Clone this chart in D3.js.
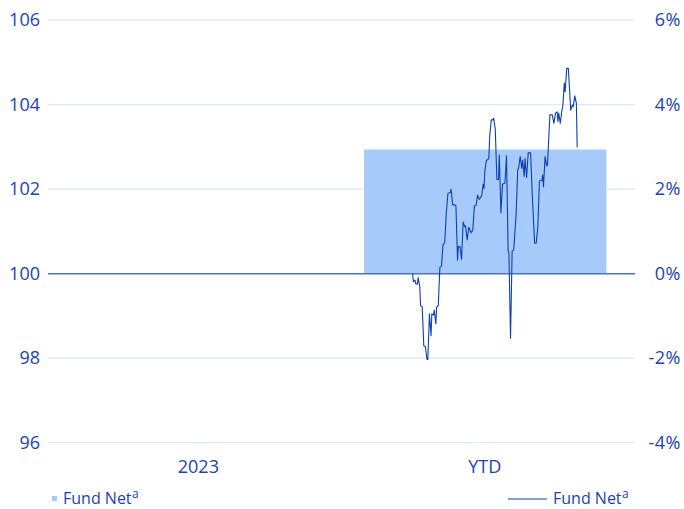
<!DOCTYPE html>
<html>
<head>
<meta charset="utf-8">
<script src="https://cdn.jsdelivr.net/npm/d3@7"></script>
<style>
  html, body { margin: 0; padding: 0; background: #fff; }
  svg { display: block; font-family: "Open Sans", "Noto Sans", sans-serif; }
</style>
</head>
<body>
<div id="chart"></div>
<script>
// Calendar-year returns (bars, right axis in %)
const categories = ["2023", "YTD"];
const barValues = [null, 2.94];

// Growth of 100 (line, left axis) - day offsets from the line start
const lineStart = "2024-03-30";
const lineDays = [0, 1, 3, 4, 6, 7, 9, 10, 12, 14, 16, 18, 19, 21, 23, 24, 26, 27, 29, 30,
  32, 34, 36, 38, 40, 42, 44, 47, 48, 50, 52, 54, 56, 57, 59, 61, 63, 65, 66, 68,
  70, 73, 75, 77, 79, 81, 83, 86, 88, 89, 90, 92, 93, 95, 96, 98, 100, 101, 103, 105,
  107, 108, 109, 110, 112, 115, 117, 119, 120, 122, 124, 126, 129, 131, 132, 134, 136, 137, 139, 140,
  142, 144, 147, 149, 152, 154, 156, 158, 161, 162, 163, 165, 167, 168, 171, 174, 176, 178, 180, 181,
  182, 184, 186, 187, 189, 190, 192, 194, 197, 199, 200, 202, 204, 205];
const lineValues = [100.0, 99.81, 99.85, 99.76, 99.76, 99.91, 99.69, 99.24, 99.22, 98.29, 98.27, 97.97, 97.97, 99.05, 98.53, 99.05, 99.02, 99.14, 98.81, 99.22,
  99.24, 100.15, 100.18, 100.70, 100.72, 101.43, 101.90, 101.92, 102.00, 101.63, 101.63, 101.61, 100.32, 100.64, 100.64, 100.34, 101.22, 101.11, 101.13, 100.80,
  101.10, 100.97, 101.03, 101.61, 101.61, 101.86, 101.76, 101.84, 102.12, 102.02, 102.43, 102.69, 102.69, 102.73, 103.24, 103.64, 103.64, 103.68, 103.42, 102.23,
  102.23, 102.81, 102.14, 101.44, 102.12, 102.14, 102.79, 100.52, 100.50, 98.47, 100.54, 100.56, 101.43, 102.47, 102.49, 102.77, 102.49, 102.69, 102.30, 102.73,
  102.28, 102.86, 102.86, 101.90, 100.72, 100.72, 101.11, 102.20, 102.20, 102.34, 102.06, 102.77, 102.55, 102.57, 103.76, 103.76, 103.56, 103.80, 103.83, 103.60,
  103.80, 103.56, 103.87, 103.95, 104.51, 104.31, 104.86, 104.86, 103.87, 103.99, 103.95, 104.21, 104.03, 102.99];

const leftTicks = [96, 98, 100, 102, 104, 106];
const rightTicks = [-4, -2, 0, 2, 4, 6];
const timeDomain = ["2023-01-01", "2025-01-01"];
const legendLabel = "Fund Net";
const legendNote = "a";

const W = 684, H = 509;
const innerLeft = 48, innerRight = 635;
const yTop = 20.2, yBottom = 442.7;

const textColor = "#1a42b8";
const barColor = "#a6cbfb";
const lineColor = "#0d3fb3";
const gridColor = "#dde9fb";
const zeroColor = "#4a72c8";
const font = "\"Open Sans\", sans-serif";

const svg = d3.select("#chart").append("svg")
  .attr("width", W)
  .attr("height", H);

const yLeft = d3.scaleLinear().domain([96, 106]).range([yBottom, yTop]);
const yRight = d3.scaleLinear().domain([-4, 6]).range([yBottom, yTop]);

const xBand = d3.scaleBand()
  .domain(categories)
  .range([innerLeft, innerRight])
  .paddingInner(0.15)
  .paddingOuter(0.1);

const parse = d3.utcParse("%Y-%m-%d");
const xTime = d3.scaleUtc()
  .domain(timeDomain.map(parse))
  .range([innerLeft, innerRight]);

// gridlines
svg.append("g")
  .selectAll("line")
  .data(leftTicks.filter(d => d !== 100))
  .join("line")
  .attr("x1", innerLeft).attr("x2", innerRight)
  .attr("y1", d => yLeft(d)).attr("y2", d => yLeft(d))
  .attr("stroke", gridColor)
  .attr("stroke-width", 1.2);

// bars
svg.append("g")
  .selectAll("rect")
  .data(categories.map((c, i) => ({ c, v: barValues[i] })).filter(d => d.v != null))
  .join("rect")
  .attr("x", d => xBand(d.c) + 1)
  .attr("width", xBand.bandwidth() - 1)
  .attr("y", d => yRight(Math.max(0, d.v)))
  .attr("height", d => Math.abs(yRight(d.v) - yRight(0)))
  .attr("fill", barColor);

// zero line
svg.append("line")
  .attr("x1", innerLeft).attr("x2", innerRight)
  .attr("y1", yLeft(100)).attr("y2", yLeft(100))
  .attr("stroke", zeroColor)
  .attr("stroke-width", 1.4);

// growth line
const start = parse(lineStart);
const lineData = lineDays.map((d, i) => ({ date: d3.utcDay.offset(start, d), v: lineValues[i] }));
svg.append("path")
  .datum(lineData)
  .attr("fill", "none")
  .attr("stroke", lineColor)
  .attr("stroke-width", 1.1)
  .attr("stroke-linejoin", "round")
  .attr("d", d3.line().x(d => xTime(d.date)).y(d => yLeft(d.v)));

// left axis
const leftAxis = svg.append("g")
  .attr("transform", `translate(${innerLeft - 8},0)`)
  .call(d3.axisLeft(yLeft).tickValues(leftTicks).tickSize(0).tickPadding(0).tickFormat(d3.format("d")));
leftAxis.select(".domain").remove();
leftAxis.selectAll("text")
  .attr("fill", textColor)
  .attr("font-size", 18)
  .attr("font-family", font);

// right axis, right aligned at the edge
const rightAxis = svg.append("g")
  .attr("transform", `translate(${W - 3},0)`)
  .call(d3.axisRight(yRight).tickValues(rightTicks).tickSize(0).tickPadding(0).tickFormat(d => d + "%"));
rightAxis.select(".domain").remove();
rightAxis.selectAll("text")
  .attr("text-anchor", "end")
  .attr("fill", textColor)
  .attr("font-size", 18)
  .attr("letter-spacing", 0.5)
  .attr("font-family", font);

// category axis
const bottomAxis = svg.append("g")
  .attr("transform", `translate(0,${yBottom + 25})`)
  .call(d3.axisBottom(xBand).tickSize(0).tickPadding(0));
bottomAxis.select(".domain").remove();
bottomAxis.selectAll("text")
  .attr("fill", textColor)
  .attr("font-size", 18)
  .attr("dy", "0.3em")
  .attr("font-family", font);

// legends
const legY = 499;
function legendText(g, x) {
  const t = g.append("text")
    .attr("x", x).attr("y", legY + 5)
    .attr("fill", textColor).attr("font-size", 16)
    .attr("font-family", font);
  t.append("tspan").text(legendLabel);
  t.append("tspan").attr("font-size", 12).attr("dy", -6).attr("dx", 0.5).text(legendNote);
}

const legL = svg.append("g");
legL.append("rect")
  .attr("x", 52).attr("y", legY - 3).attr("width", 5).attr("height", 5)
  .attr("fill", barColor);
legendText(legL, 63);

const legR = svg.append("g");
legR.append("line")
  .attr("x1", 508).attr("x2", 547)
  .attr("y1", legY).attr("y2", legY)
  .attr("stroke", lineColor).attr("stroke-width", 1.1);
legendText(legR, 553);
</script>
</body>
</html>
